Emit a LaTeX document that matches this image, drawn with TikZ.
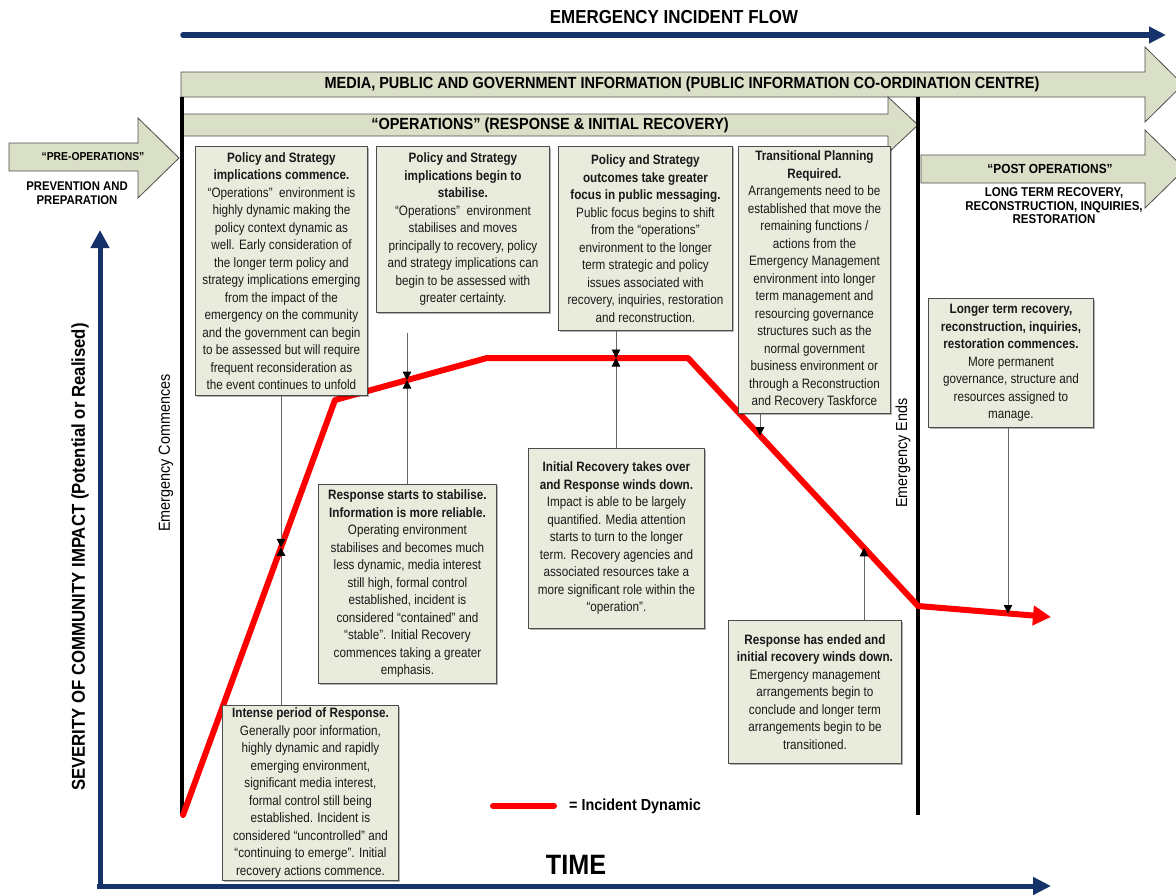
\documentclass[tikz,border=0pt]{standalone}
\usepackage{fontspec}
\setmainfont[FakeStretch=0.9]{Liberation Sans}
\newfontfamily\boxfont[FakeStretch=0.86]{Liberation Sans}
\usetikzlibrary{arrows.meta,shadows}
\definecolor{navy}{HTML}{15336A}
\definecolor{arrowfill}{HTML}{DADFC7}
\definecolor{boxfill}{HTML}{E9ECDC}
\definecolor{edgegray}{HTML}{4D4D4D}
\definecolor{incred}{HTML}{FF0000}
\begin{document}
\begin{tikzpicture}[x=1pt,y=-1pt,
 infobox/.style={draw=edgegray, fill=boxfill, line width=0.9pt, align=center, anchor=north west, inner sep=2pt,
   font=\boxfont\fontsize{13.6}{17.5}\selectfont, text=black!90,
   drop shadow={shadow xshift=1.6pt, shadow yshift=-1.6pt, fill=black, opacity=0.3}},
 conn/.style={draw=black!60, line width=0.9pt, -{Triangle[length=8.5pt,width=8.5pt,color=black]}},
 blockarrow/.style={draw=edgegray, fill=arrowfill, line width=0.8pt, line join=miter},
 navyarrow/.style={draw=navy, line width=5.5pt, line cap=round},
 divider/.style={draw=black, line width=4.5pt},
 incident/.style={draw=incred, line width=6pt, line join=round, line cap=round},
 lbl/.style={inner sep=0pt, align=center},
]
\useasboundingbox (0,0) rectangle (1176,895);

% ---- top flow arrow
\coordinate (flowA) at (183,35);
\coordinate (flowB) at (1166,35);
\draw[navyarrow, -{Triangle[length=17pt,width=16pt]}] (flowA) -- (flowB);
\node[lbl, font=\bfseries\fontsize{18.8}{21}\selectfont] (flowtitle) at (674,17) {EMERGENCY INCIDENT FLOW};

% ---- block arrows
\draw[blockarrow] (181,72) -- (1145,72) -- (1145,47) -- (1183,84.5) -- (1145,122) -- (1145,97) -- (181,97) -- cycle;
\node[lbl, font=\bfseries\fontsize{16.1}{19}\selectfont] (media) at (682,84.5) {MEDIA, PUBLIC AND GOVERNMENT INFORMATION (PUBLIC INFORMATION CO-ORDINATION CENTRE)};

\draw[blockarrow] (182,114) -- (888,114) -- (888,97) -- (918,125) -- (888,153) -- (888,136) -- (182,136) -- cycle;
\node[lbl, font=\bfseries\fontsize{16.1}{19}\selectfont] (ops) at (550,125) {“OPERATIONS” (RESPONSE \& INITIAL RECOVERY)};

\draw[blockarrow] (9,143) -- (138,143) -- (138,118) -- (179,158) -- (138,198) -- (138,171) -- (9,171) -- cycle;
\node[lbl, font=\bfseries\fontsize{11.5}{13}\selectfont] (preops) at (93,157) {“PRE-OPERATIONS”};
\node[lbl, font=\bfseries\fontsize{12.6}{13.5}\selectfont] (prevent) at (77,193) {PREVENTION AND\\PREPARATION};

\draw[blockarrow] (921,155) -- (1145,155) -- (1145,130) -- (1185,169) -- (1145,208) -- (1145,183) -- (921,183) -- cycle;
\node[lbl, font=\bfseries\fontsize{13.2}{15}\selectfont] (postops) at (1050,169) {“POST OPERATIONS”};
\node[lbl, font=\bfseries\fontsize{12.8}{13.5}\selectfont] (longterm) at (1054,206) {LONG TERM RECOVERY,\\RECONSTRUCTION, INQUIRIES,\\RESTORATION};

% ---- dividers
\coordinate (divLtop) at (182,97);
\coordinate (divLbot) at (182,815);
\coordinate (divRtop) at (918,97);
\coordinate (divRbot) at (918,815);
\draw[divider] (divLtop) -- (divLbot);
\draw[divider] (divRtop) -- (divRbot);
\node[lbl, rotate=90, font=\fontsize{16}{18}\selectfont] (commences) at (166,453) {Emergency Commences};
\node[lbl, rotate=90, font=\fontsize{16}{18}\selectfont] (ends) at (903,453) {Emergency Ends};

% ---- axes
\coordinate (yA) at (100,889);
\coordinate (yB) at (100,230);
\coordinate (xA) at (97,886);
\coordinate (xB) at (1051,886);
\draw[navy, line width=5pt, -{Triangle[length=18pt,width=18pt]}] (yA) -- (yB);
\draw[navy, line width=5pt, -{Triangle[length=18pt,width=17pt]}] (xA) -- (xB);
\node[lbl, rotate=90, font=\bfseries\fontsize{18.6}{21}\selectfont] (severity) at (80,557) {SEVERITY OF COMMUNITY IMPACT (Potential or Realised)};
\node[lbl, font=\bfseries\fontsize{28}{30}\selectfont] (time) at (576,865) {TIME};

% ---- incident dynamic line
\coordinate (r0) at (183,815);
\coordinate (r1) at (335,400);
\coordinate (r2) at (487,358);
\coordinate (r3) at (688,358);
\coordinate (r4) at (918,606);
\coordinate (r5) at (1051,617);
\draw[incident, -{Triangle[length=18pt,width=19pt]}] (r0) -- (r1) -- (r2) -- (r3) -- (r4) -- (r5);

% ---- legend
\coordinate (legA) at (493,806);
\coordinate (legB) at (554,806);
\draw[incident] (legA) -- (legB);
\node[lbl, anchor=west, font=\bfseries\fontsize{16}{18}\selectfont] (legtext) at (569,806) {= Incident Dynamic};

% ---- boxes
\node[infobox, minimum width=172pt, minimum height=249pt] (b1) at (195,146) {%
\textbf{Policy and Strategy}\\\textbf{implications commence.}\\
“Operations”\ \ environment is\\highly dynamic making the\\policy context dynamic as\\well. Early consideration of\\the longer term policy and\\strategy implications emerging\\from the impact of the\\emergency on the community\\and the government can begin\\to be assessed but will require\\frequent reconsideration as\\the event continues to unfold};

\node[infobox, minimum width=173pt, minimum height=166pt] (b2) at (376,146) {%
\textbf{Policy and Strategy}\\\textbf{implications begin to}\\\textbf{stabilise.}\\
“Operations”\ \ environment\\stabilises and moves\\principally to recovery, policy\\and strategy implications can\\begin to be assessed with\\greater certainty.};

\node[infobox, minimum width=174pt, minimum height=184pt] (b3) at (558,146) {%
\textbf{Policy and Strategy}\\\textbf{outcomes take greater}\\\textbf{focus in public messaging.}\\
Public focus begins to shift\\from the “operations”\\environment to the longer\\term strategic and policy\\issues associated with\\recovery, inquiries, restoration\\and reconstruction.};

\node[infobox, minimum width=152pt, minimum height=267pt] (b4) at (738,146) {%
\textbf{Transitional Planning}\\\textbf{Required.}\\
Arrangements need to be\\established that move the\\remaining functions /\\actions from the\\Emergency Management\\environment into longer\\term management and\\resourcing governance\\structures such as the\\normal government\\business environment or\\through a Reconstruction\\and Recovery Taskforce};

\node[infobox, minimum width=165pt, minimum height=129pt] (b5) at (928,298) {%
\textbf{Longer term recovery,}\\\textbf{reconstruction, inquiries,}\\\textbf{restoration commences.}\\
More permanent\\governance, structure and\\resources assigned to\\manage.};

\node[infobox, minimum width=178pt, minimum height=199pt] (b6) at (318,484) {%
\textbf{Response starts to stabilise.}\\\textbf{Information is more reliable.}\\
Operating environment\\stabilises and becomes much\\less dynamic, media interest\\still high, formal control\\established, incident is\\considered “contained” and\\“stable”. Initial Recovery\\commences taking a greater\\emphasis.};

\node[infobox, minimum width=176pt, minimum height=180pt] (b7) at (528,448) {%
\textbf{Initial Recovery takes over}\\\textbf{and Response winds down.}\\
Impact is able to be largely\\quantified. Media attention\\starts to turn to the longer\\term. Recovery agencies and\\associated resources take a\\more significant role within the\\“operation”.};

\node[infobox, minimum width=173pt, minimum height=143pt] (b8) at (728,620) {%
\textbf{Response has ended and}\\\textbf{initial recovery winds down.}\\
Emergency management\\arrangements begin to\\conclude and longer term\\arrangements begin to be\\transitioned.};

\node[infobox, minimum width=176pt, minimum height=175pt] (b9) at (222,705) {%
\textbf{Intense period of Response.}\\
Generally poor information,\\highly dynamic and rapidly\\emerging environment,\\significant media interest,\\formal control still being\\established. Incident is\\considered “uncontrolled” and\\“continuing to emerge”. Initial\\recovery actions commence.};

% ---- connectors
\coordinate (c1) at (281,547.4);
\coordinate (c2) at (407,380.1);
\coordinate (c2top) at (407,333);
\coordinate (c3) at (616,358);
\coordinate (c4) at (760,435.6);
\coordinate (c5) at (864,547.8);
\coordinate (c6) at (1008,613.5);
\draw[conn] (b1.south -| c1) -- (c1);
\draw[conn] (b9.north -| c1) -- (c1);
\draw[conn] (c2top) -- (c2);
\draw[conn] (b6.north -| c2) -- (c2);
\draw[conn] (b3.south -| c3) -- (c3);
\draw[conn] (b7.north -| c3) -- (c3);
\draw[conn] (b4.south -| c4) -- (c4);
\draw[conn] (b8.north -| c5) -- (c5);
\draw[conn] (b5.south -| c6) -- (c6);
\end{tikzpicture}
\end{document}
